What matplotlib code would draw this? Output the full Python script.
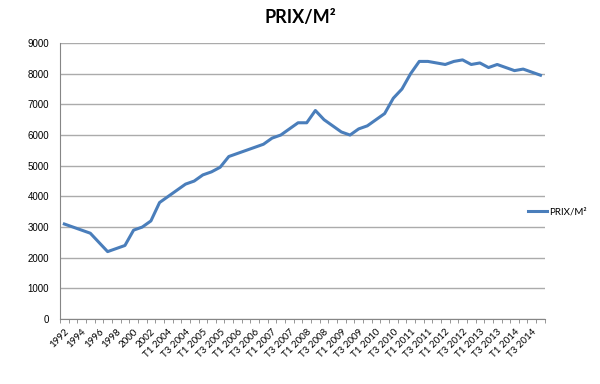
import matplotlib.pyplot as plt

years = [str(y) for y in range(1992, 2004)]
quarters = ["T%d %d" % (q, y) for y in range(2004, 2015) for q in range(1, 5)]
categories = years + quarters

prix = [3100, 3000, 2900, 2800, 2500, 2200, 2300, 2400, 2900, 3000, 3200, 3800,
        4000, 4200, 4400, 4500, 4700, 4800, 4950, 5300, 5400, 5500, 5600, 5700,
        5900, 6000, 6200, 6400, 6400, 6800, 6500, 6300, 6100, 6000, 6200, 6300,
        6500, 6700, 7200, 7500, 8000, 8400, 8400, 8350, 8300, 8400, 8450, 8300,
        8350, 8200, 8300, 8200, 8100, 8150, 8050, 7950]

plt.rcParams['font.family'] = ['Lato', 'DejaVu Sans']

fig = plt.figure(figsize=(6, 3.84), dpi=100)
ax = fig.add_axes([0.1, 0.169, 0.808, 0.719])

x = list(range(len(categories)))
ax.plot(x, prix, color="#4A7EBB", linewidth=2.2, label="PRIX/M²")

ax.set_xlim(-0.5, len(categories) - 0.5)
ax.set_ylim(0, 9000)
ax.set_yticks(range(0, 9001, 1000))
ax.set_yticklabels([str(v) for v in range(0, 9001, 1000)], family="Liberation Sans")
ax.yaxis.grid(True, color="#ABABAB", linewidth=1)
ax.set_axisbelow(True)

ax.set_xticks(x[::2])
ax.set_xticklabels(categories[::2], rotation=45, ha="right", rotation_mode="anchor", fontsize=7)
ax.set_xticks([i - 0.5 for i in range(len(categories) + 1)], minor=True)
ax.tick_params(axis="x", which="major", length=0, pad=6)
ax.tick_params(axis="x", which="minor", length=3, color="#868686")
ax.tick_params(axis="y", length=0, labelsize=7, pad=8)

for s in ["top", "right"]:
    ax.spines[s].set_visible(False)
ax.spines["left"].set_color("#868686")
ax.spines["bottom"].set_color("#868686")

fig.text(0.5, 0.955, "PRIX/M²", ha="center", va="center", fontsize=13, fontweight="bold")
ax.legend(loc="center left", bbox_to_anchor=(0.865, 0.447), bbox_transform=fig.transFigure,
          frameon=False, fontsize=7, handlelength=2, handletextpad=0.2)

plt.savefig("out.png")
